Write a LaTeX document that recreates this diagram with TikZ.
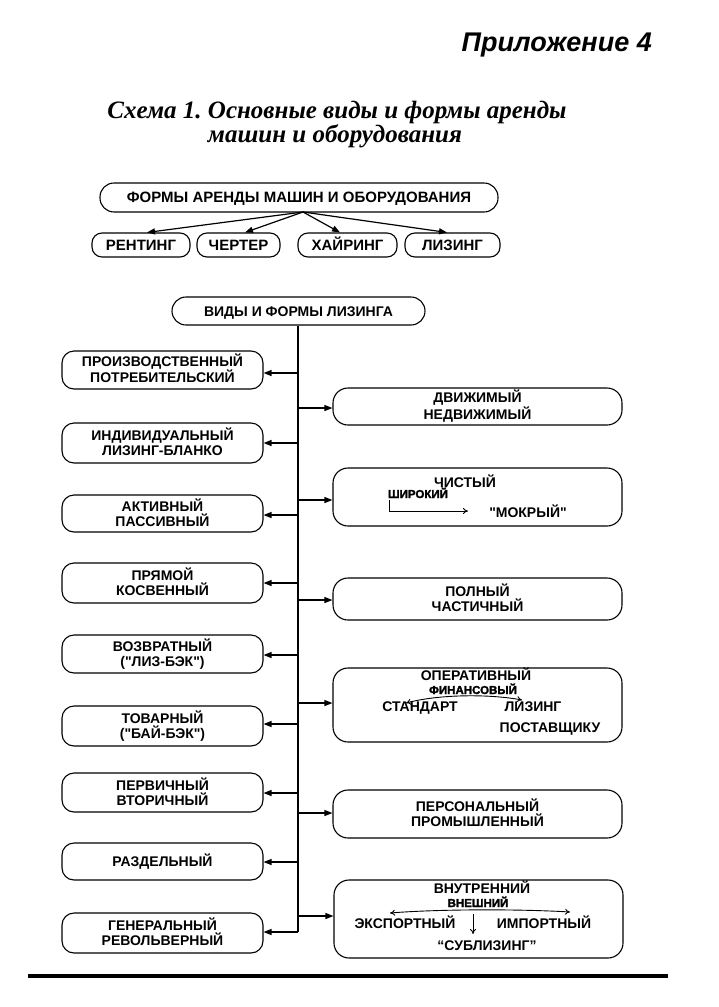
\documentclass[tikz,border=0pt]{standalone}
\usepackage{fontspec}
\setmainfont{Liberation Sans}
\newfontfamily\titleserif{Liberation Serif}
\newfontfamily\heavyfont[FakeBold=2]{Liberation Sans Bold}
\usetikzlibrary{arrows.meta,calc}
\begin{document}
\begin{tikzpicture}[x=1pt,y=-1pt,
  box/.style={draw, line width=1.1pt, rounded corners=12pt, align=center, inner sep=0pt,
              text height=10pt, text depth=0pt, font=\fontsize{14}{15}\selectfont\bfseries},
  two/.style={text height=25pt, text depth=0pt},
  lbox/.style={box, minimum width=201pt},
  rbox/.style={box, minimum width=289pt, rounded corners=15pt},
  sbox/.style={box, minimum height=24pt, rounded corners=10pt, text height=11pt,
               font=\fontsize{15}{17}\selectfont\bfseries},
  txt/.style={inner sep=0pt, text height=10pt, text depth=0pt, font=\fontsize{14}{15}\selectfont\bfseries},
  emph/.style={inner sep=0pt, text height=8pt, text depth=0pt, font=\fontsize{11.5}{12}\selectfont\heavyfont},
  arr/.style={line width=1.2pt, -{Triangle[length=8pt,width=6pt]}},
  thin/.style={line width=0.9pt},
  oarr/.style={line width=0.9pt, -{To[length=5pt,width=6pt]}},
  ttl/.style={inner sep=0pt, text height=16pt, text depth=3pt, font=\titleserif\fontsize{25}{27}\selectfont\bfseries\itshape},
]
\useasboundingbox (0,0) rectangle (718,1007);

% headings
\node[anchor=east, inner sep=0pt, font=\fontsize{27}{29}\selectfont\bfseries\itshape] (app) at (652,45) {Приложение 4};
\node[ttl] (t1) at (337,112) {Схема 1.\ Основные виды и формы аренды};
\node[ttl] (t2) at (335,136) {машин и оборудования};

% top block
\node[box, minimum width=398pt, minimum height=29pt, rounded corners=14pt, text height=10.7pt, font=\fontsize{15}{17}\selectfont\bfseries] (top) at (299,197.5) {ФОРМЫ АРЕНДЫ МАШИН И ОБОРУДОВАНИЯ};
\node[sbox, minimum width=98pt] (rent) at (141,245) {РЕНТИНГ};
\node[sbox, minimum width=83pt] (chart) at (238.5,245) {ЧЕРТЕР};
\node[sbox, minimum width=99pt] (hair) at (347.5,245) {ХАЙРИНГ};
\node[sbox, minimum width=95pt] (lis) at (452.5,245) {ЛИЗИНГ};
\coordinate (tp) at (303,212);
\draw[arr] (tp) -- (147,0 |- rent.north);
\draw[arr] (tp) -- (245,0 |- chart.north);
\draw[arr] (tp) -- (340,0 |- hair.north);
\draw[arr] (tp) -- (447,0 |- lis.north);

% leasing block
\node[box, minimum width=253pt, minimum height=28pt, rounded corners=14pt] (vid) at (298.5,311) {ВИДЫ И ФОРМЫ ЛИЗИНГА};
\coordinate (tend) at (298,932);
\draw[line width=1.2pt] (vid.south -| tend) -- (tend);

% left boxes
\node[lbox, two, minimum height=38pt] (L1) at (162.5,370) {ПРОИЗВОДСТВЕННЫЙ\\ПОТРЕБИТЕЛЬСКИЙ};
\node[lbox, two, minimum height=40pt] (L2) at (162.5,443) {ИНДИВИДУАЛЬНЫЙ\\ЛИЗИНГ-БЛАНКО};
\node[lbox, two, minimum height=37pt] (L3) at (162.5,513.5) {АКТИВНЫЙ\\ПАССИВНЫЙ};
\node[lbox, two, minimum height=40pt] (L4) at (162.5,583) {ПРЯМОЙ\\КОСВЕННЫЙ};
\node[lbox, two, minimum height=38pt] (L5) at (162.5,654) {ВОЗВРАТНЫЙ\\(\textquotedbl ЛИЗ-БЭК\textquotedbl)};
\node[lbox, two, minimum height=40pt] (L6) at (162.5,726) {ТОВАРНЫЙ\\(\textquotedbl БАЙ-БЭК\textquotedbl)};
\node[lbox, two, minimum height=39pt] (L7) at (162.5,792.5) {ПЕРВИЧНЫЙ\\ВТОРИЧНЫЙ};
\node[lbox, minimum height=37pt] (L8) at (162.5,861.5) {РАЗДЕЛЬНЫЙ};
\node[lbox, two, minimum height=40pt] (L9) at (162.5,933) {ГЕНЕРАЛЬНЫЙ\\РЕВОЛЬВЕРНЫЙ};

\foreach \n/\y in {L1/373,L2/443,L3/515,L4/583,L5/655,L6/724,L7/793,L8/862,L9/932}{
  \coordinate (a\n) at (298,\y);
  \draw[arr] (a\n) -- (a\n -| \n.east);
}

% right boxes
\node[rbox, two, minimum height=37pt] (R1) at (477.5,406.5) {ДВИЖИМЫЙ\\НЕДВИЖИМЫЙ};
\node[rbox, minimum height=58pt] (R2) at (477.5,497) {};
\node[rbox, two, minimum height=42pt] (R3) at (477.5,599) {ПОЛНЫЙ\\ЧАСТИЧНЫЙ};
\node[rbox, minimum height=74pt] (R4) at (477.5,705) {};
\node[rbox, two, minimum height=48pt] (R5) at (477.5,814) {ПЕРСОНАЛЬНЫЙ\\ПРОМЫШЛЕННЫЙ};
\node[rbox, minimum height=78pt] (R6) at (478.5,919) {};

\foreach \n/\y in {R1/408,R2/500,R3/600,R4/703,R5/813,R6/916}{
  \coordinate (b\n) at (298,\y);
  \draw[arr] (b\n) -- (b\n -| \n.west);
}

% R2 contents
\node[txt] (chist) at (465,482) {ЧИСТЫЙ};
\node[emph] (shir) at (418,494) {ШИРОКИЙ};
\node[txt] (mokr) at (528,512) {\textquotedbl МОКРЫЙ\textquotedbl};
\coordinate (sa) at (389,500);
\coordinate (sb) at (468,511);
\draw[oarr] (sa) |- (sb);

% R4 contents
\node[txt] (oper) at (476,675) {ОПЕРАТИВНЫЙ};
\node[emph] (fin) at (473,690) {ФИНАНСОВЫЙ};
\node[txt] (stand) at (420,706) {СТАНДАРТ};
\node[txt] (liz) at (533,706) {ЛИЗИНГ};
\node[txt] (post) at (550,727) {ПОСТАВЩИКУ};
\coordinate (fa) at (406,703);
\coordinate (fb) at (522,700);
\draw[thin, {To[length=5pt,width=6pt]}-{To[length=5pt,width=6pt]}] (fa) .. controls (440,694) and (490,694) .. (fb);

% R6 contents
\node[txt] (vnutr) at (482,888) {ВНУТРЕННИЙ};
\node[emph] (vnesh) at (478,903) {ВНЕШНИЙ};
\node[txt] (exp) at (405,923) {ЭКСПОРТНЫЙ};
\node[txt] (imp) at (544,923) {ИМПОРТНЫЙ};
\node[txt] (subl) at (487,945) {“СУБЛИЗИНГ”};
\coordinate (va) at (390,913);
\coordinate (vb) at (570,912);
\draw[thin, {To[length=5pt,width=6pt]}-{To[length=5pt,width=6pt]}] (va) .. controls (440,909) and (520,909) .. (vb);
\coordinate (da) at (473,914);
\coordinate (db) at (473,934);
\draw[oarr] (da) -- (db);

% bottom rule
\coordinate (ra) at (28,976);
\coordinate (rb) at (668,976);
\draw[line width=3.5pt] (ra) -- (rb);
\end{tikzpicture}
\end{document}
